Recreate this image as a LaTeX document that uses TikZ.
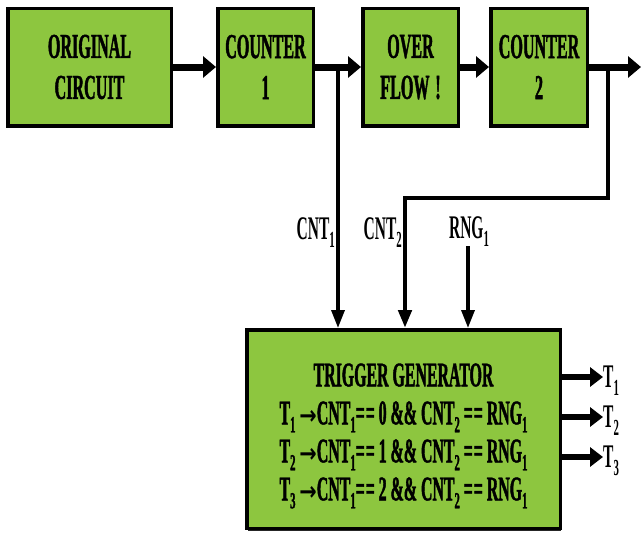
\documentclass[tikz,border=0pt]{standalone}
\usepackage{fontspec}
\setmainfont{Liberation Serif}
\newfontfamily\condbold{Liberation Serif Bold}[FakeStretch=0.46, FakeBold=1.2]
\newfontfamily\lblfont{Liberation Serif Bold}[FakeStretch=0.47]
\newfontfamily\arrowfont{DejaVu Sans Bold}[FakeStretch=0.8]
\usetikzlibrary{arrows.meta,calc,shadows}
\definecolor{boxgreen}{HTML}{8DC63F}
\newcommand\sbx[1]{\raisebox{-8pt}{\fontsize{23pt}{23pt}\selectfont #1}}
\newcommand\arr{{\arrowfont\fontsize{26pt}{26pt}\selectfont →}}
\begin{document}
\begin{tikzpicture}[x=1pt,y=-1pt,
  blk/.style={draw=black, line width=3.5pt, fill=boxgreen, inner sep=0pt, align=center,
    drop shadow={shadow xshift=1pt, shadow yshift=-2.5pt, opacity=0.85, fill=black},
    font=\condbold\fontsize{35pt}{41pt}\selectfont},
  bigarrow/.style={line width=7pt, -{Triangle[length=13pt,width=21pt]}},
  feed/.style={line width=3.5pt, -{Triangle[length=18pt,width=13pt]}},
  outarrow/.style={line width=6pt, -{Triangle[length=13pt,width=19pt]}},
  lbl/.style={font=\lblfont\fontsize{33pt}{35pt}\selectfont, inner sep=0pt},
]
\useasboundingbox (0,0) rectangle (641,533);
\node[blk, minimum width=163.5pt, minimum height=117.5pt] (orig) at (89.5,67) {ORIGINAL\\CIRCUIT};
\node[blk, minimum width=95.5pt, minimum height=117.5pt] (c1) at (265.5,67) {COUNTER\\1};
\node[blk, minimum width=95.5pt, minimum height=117.5pt] (of) at (410.5,67) {OVER\\FLOW\,!};
\node[blk, minimum width=96.5pt, minimum height=117.5pt] (c2) at (539,67) {COUNTER\\2};
\node[blk, minimum width=313.5pt, minimum height=198.5pt] (trig) at (403.5,429) {};
\node[align=center, inner sep=0pt, font=\condbold\fontsize{34.5pt}{38pt}\selectfont] (trigtxt) at (403.5,436)
  {TRIGGER GENERATOR\\
   T\sbx{1} \arr CNT\sbx{1}=\hspace{1pt}= 0 \&\& CNT\sbx{2} =\hspace{1pt}= RNG\sbx{1}\\
   T\sbx{2} \arr CNT\sbx{1}=\hspace{1pt}= 1 \&\& CNT\sbx{2} =\hspace{1pt}= RNG\sbx{1}\\
   T\sbx{3} \arr CNT\sbx{1}=\hspace{1pt}= 2 \&\& CNT\sbx{2} =\hspace{1pt}= RNG\sbx{1}};
% main chain
\draw[bigarrow] (orig.east) -- (c1.west);
\draw[bigarrow] (c1.east) -- (of.west);
\draw[bigarrow] (of.east) -- (c2.west);
\coordinate (outR) at (641,67);
\draw[bigarrow] (c2.east) -- (outR);
% feedback lines
\coordinate (b1) at (338,67);
\draw[feed] (b1) -- (b1 |- trig.north);
\coordinate (b2) at (608,67);
\coordinate (k2) at (608,198);
\coordinate (k3) at (405,198);
\draw[feed, line width=4.5pt] (b2) -- (k2) -- (k3) -- (k3 |- trig.north);
\node[lbl, anchor=base east] (cnt1) at (335,239) {CNT\sbx{1}};
\node[lbl, anchor=base east] (cnt2) at (402,239) {CNT\sbx{2}};
\node[lbl, anchor=base] (rng) at (469,238) {RNG\sbx{1}};
\coordinate (rtop) at (468,246);
\draw[feed] (rtop) -- (rtop |- trig.north);
% outputs
\coordinate (o1) at (603,377);
\coordinate (o2) at (603,417);
\coordinate (o3) at (603,457);
\draw[outarrow] (o1 -| trig.east) -- (o1);
\draw[outarrow] (o2 -| trig.east) -- (o2);
\draw[outarrow] (o3 -| trig.east) -- (o3);
\node[lbl, anchor=base west] (t1) at (603,387) {T\sbx{1}};
\node[lbl, anchor=base west] (t2) at (603,427) {T\sbx{2}};
\node[lbl, anchor=base west] (t3) at (603,467) {T\sbx{3}};
\end{tikzpicture}
\end{document}
